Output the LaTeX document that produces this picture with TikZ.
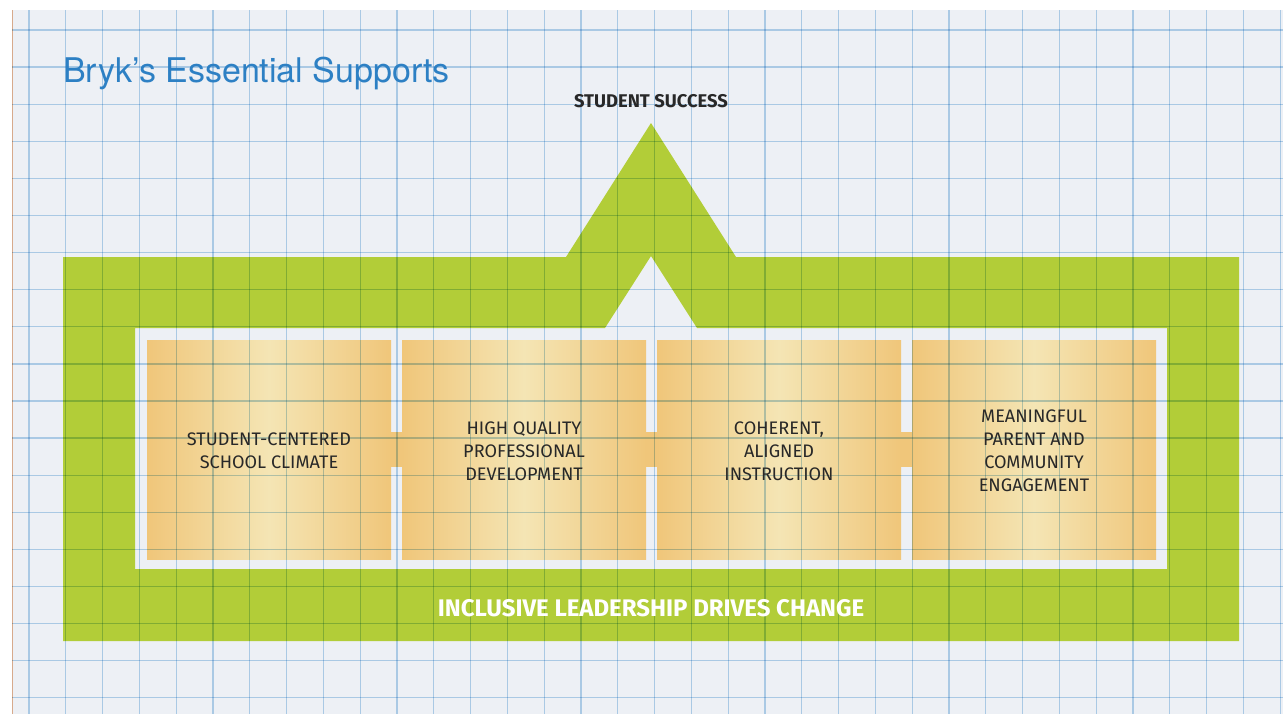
\documentclass[tikz,border=0pt]{standalone}
\usepackage{fontspec}
\setmainfont{Fira Sans}
\newfontfamily\titlefont{TeX Gyre Heros}
\definecolor{paper}{RGB}{237,240,245}
\definecolor{paperedge}{RGB}{215,170,140}
\definecolor{gridblue}{RGB}{172,208,236}
\definecolor{leafgreen}{RGB}{178,205,56}
\definecolor{boxedge}{RGB}{240,198,122}
\definecolor{boxmid}{RGB}{244,229,180}
\definecolor{textdark}{RGB}{40,40,40}
\definecolor{titleblue}{RGB}{45,128,196}
\begin{document}
\begin{tikzpicture}[x=0.75pt,y=-0.75pt,
  gridline/.style={draw=gridblue, line width=1pt},
  boxnode/.style={rectangle, minimum width=183pt, minimum height=164.25pt,
    left color=boxedge, right color=boxedge, middle color=boxmid,
    inner sep=0pt, align=center},
  boxtext/.style={align=center, text=textdark, font=\fontsize{13.6}{17.2}\selectfont},
  link/.style={draw=boxedge, line width=26.25pt}
]
\useasboundingbox (0,0) rectangle (1285,718);
\fill[white] (0,0) rectangle (1285,718);
\fill[paper] (12,10) rectangle (1283,714);
\draw[paperedge, line width=1pt] (12.5,10) -- (12.5,714);

% green frame with arrow
\fill[leafgreen, even odd rule]
  (63,641) -- (63,257) -- (566,257) -- (651,123) -- (736,257) -- (1239,257) -- (1239,641) -- cycle
  (135,569) -- (135,328) -- (605,328) -- (651,256) -- (697,328) -- (1167,328) -- (1167,569) -- cycle;

% boxes
\node[boxnode] (b1) at (269,449.5) {};
\node[boxnode] (b2) at (524,449.5) {};
\node[boxnode] (b3) at (779,449.5) {};
\node[boxnode] (b4) at (1034,449.5) {};
\draw[link] (b1.east) -- (b2.west);
\draw[link] (b2.east) -- (b3.west);
\draw[link] (b3.east) -- (b4.west);

% grid overlay
\begin{scope}[blend mode=multiply, opacity=0.85]
\clip (12,10) rectangle (1283,714);
\foreach \i in {0,...,34} \draw[gridline] ({29+36.8*\i},10) -- ++(0,704);
\foreach \j in {0,...,18} \draw[gridline] (12,{30+37.1*\j}) -- ++(1271,0);
\end{scope}

% texts
\node[anchor=base west, inner sep=0pt, text=titleblue, font=\titlefont\fontsize{25.5}{30}\selectfont] (title) at (63,82) {Bryk’s Essential Supports};
\node[text=textdark, font=\bfseries\fontsize{13.8}{15}\selectfont] (success) at (651,101) {STUDENT SUCCESS};
\node[boxtext] (t1) at ([yshift=-1pt]b1.center) {STUDENT-CENTERED\\SCHOOL CLIMATE};
\node[boxtext] (t2) at ([yshift=-1pt]b2.center) {HIGH QUALITY\\PROFESSIONAL\\DEVELOPMENT};
\node[boxtext] (t3) at ([yshift=-1pt]b3.center) {COHERENT,\\ALIGNED\\INSTRUCTION};
\node[boxtext] (t4) at ([yshift=-1pt]b4.center) {MEANINGFUL\\PARENT AND\\COMMUNITY\\ENGAGEMENT};
\node[text=white, font=\bfseries\fontsize{18}{21}\selectfont] (lead) at (651,608) {INCLUSIVE LEADERSHIP DRIVES CHANGE};
\end{tikzpicture}
\end{document}
